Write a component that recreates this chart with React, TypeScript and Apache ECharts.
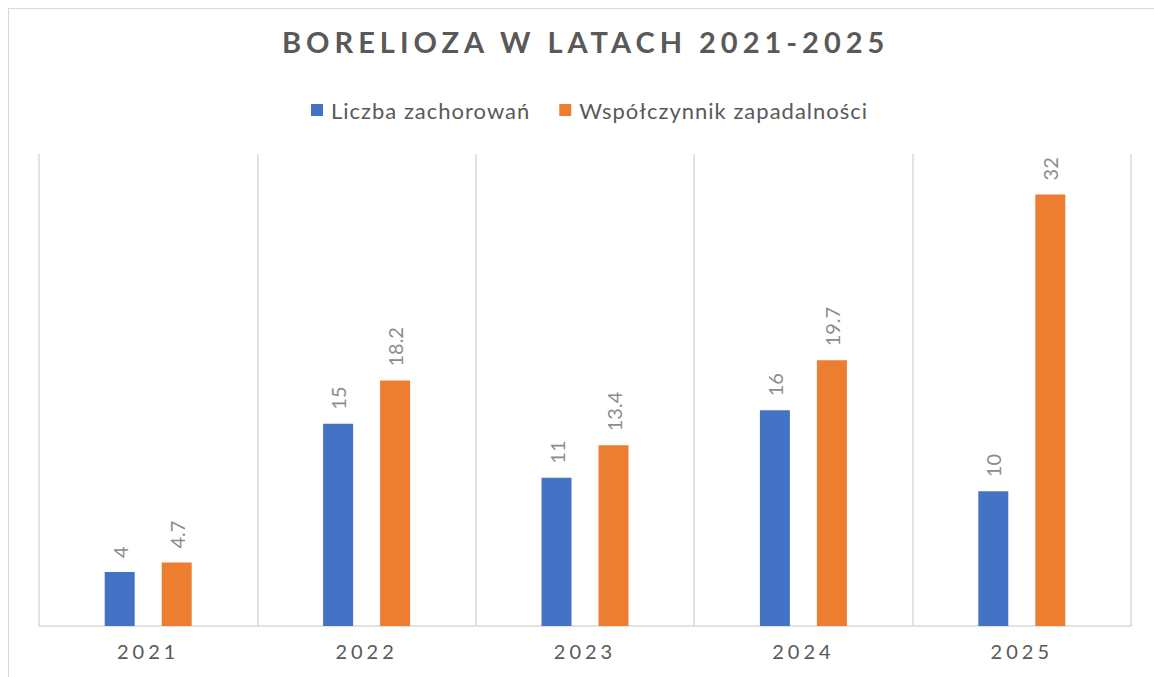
import React, { useEffect, useRef } from "react";
import * as echarts from "echarts";

const titleText = "BORELIOZA W LATACH 2021-2025";
const categories = ["2021", "2022", "2023", "2024", "2025"];
const seriesNames = ["Liczba zachorowań", "Współczynnik zapadalności"];
const cases = [4, 15, 11, 16, 10];
const rates = [4.7, 18.2, 13.4, 19.7, 32];

export default function App() {
  const ref = useRef<HTMLDivElement>(null);
  useEffect(() => {
    if (!ref.current) return;
    const chart = echarts.init(ref.current, undefined, { renderer: "svg" });
    const labelStyle = {
      show: true,
      position: "top" as const,
      rotate: 90,
      align: "left" as const,
      verticalAlign: "middle" as const,
      distance: 14,
      color: "#8c8c8c",
      fontSize: 20,
      fontFamily: "Lato",
    };
    chart.setOption({
      animation: false,
      backgroundColor: "#ffffff",
      title: {
        text: titleText,
        left: 273,
        top: 18,
        padding: 0,
        textStyle: {
          fontFamily: "Lato",
          fontWeight: "bold",
          fontSize: 29,
          color: "#595959",
        },
      },
      legend: {
        left: 297,
        top: 85,
        icon: "rect",
        itemWidth: 12,
        itemHeight: 12,
        itemGap: 46,
        textStyle: {
          fontFamily: "Lato",
          fontSize: 22,
          color: "#595959",
          padding: [0, 0, 0, 3],
        },
        data: seriesNames,
      },
      grid: { left: 30, top: 145, width: 1092, height: 472 },
      xAxis: {
        type: "category",
        data: categories,
        axisTick: { show: false },
        axisLine: { lineStyle: { color: "#d9d9d9", width: 1.5 } },
        splitLine: { show: true, lineStyle: { color: "#d9d9d9", width: 1.5 } },
        axisLabel: {
          fontFamily: "Lato",
          fontSize: 20,
          color: "#595959",
          margin: 15,
        },
      },
      yAxis: {
        type: "value",
        min: 0,
        max: 35,
        show: false,
        splitLine: { show: false },
      },
      series: [
        {
          name: seriesNames[0],
          type: "bar",
          data: cases,
          barWidth: 30,
          barGap: "90%",
          itemStyle: { color: "#4472C4" },
          label: labelStyle,
        },
        {
          name: seriesNames[1],
          type: "bar",
          data: rates,
          barWidth: 30,
          itemStyle: { color: "#ED7D31" },
          label: labelStyle,
        },
      ],
    });
    const applySpacing = () => {
      const texts = ref.current?.querySelectorAll("text") || [];
      texts.forEach((t) => {
        const s = t.textContent || "";
        if (s === titleText) t.setAttribute("letter-spacing", "5");
        else if (categories.includes(s)) t.setAttribute("letter-spacing", "4");
        else if (seriesNames.includes(s)) t.setAttribute("letter-spacing", "1");
      });
    };
    applySpacing();
    chart.on("finished", applySpacing);
    return () => chart.dispose();
  }, []);
  return (
    <div
      style={{
        position: "fixed",
        left: 0,
        top: 0,
        width: 1154,
        height: 677,
        overflow: "hidden",
        background: "#fff",
      }}
    >
      <div
        style={{
          position: "absolute",
          left: 8,
          top: 8,
          border: "1px solid #d9d9d9",
        }}
      >
        <div ref={ref} style={{ width: 1160, height: 700 }} />
      </div>
    </div>
  );
}
